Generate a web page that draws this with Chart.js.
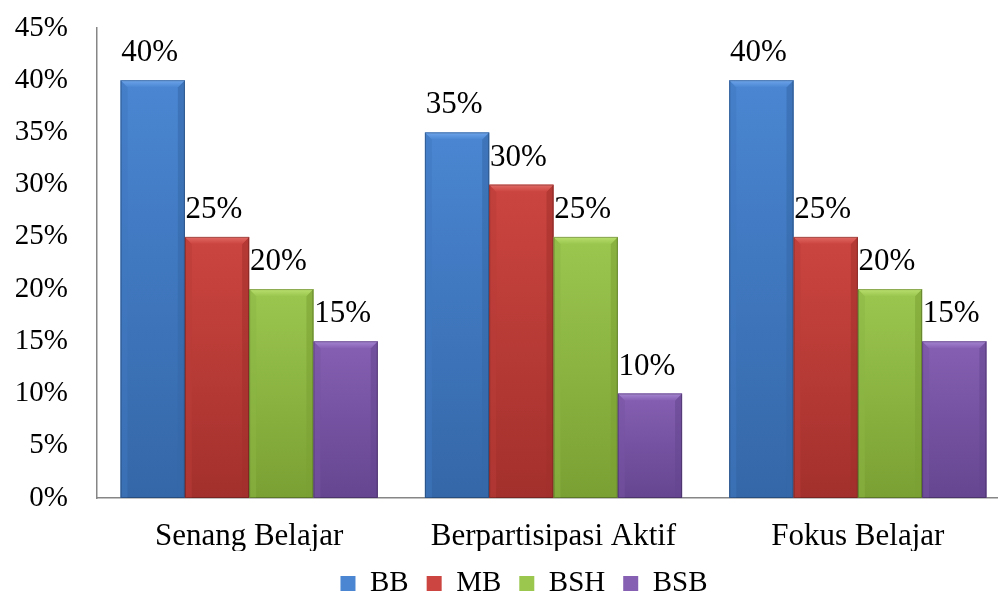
<!DOCTYPE html>
<html>
<head>
<meta charset="utf-8">
<script src="https://cdn.jsdelivr.net/npm/chart.js@4.4.1/dist/chart.umd.min.js"></script>
<style>
html,body{margin:0;padding:0;background:#fff;overflow:hidden;}
#wrap{width:1010px;height:608px;position:relative;}
</style>
</head>
<body>
<div id="wrap"><canvas id="c"></canvas></div>
<script>
const categories = ["Senang Belajar", "Berpartisipasi Aktif", "Fokus Belajar"];
const seriesNames = ["BB", "MB", "BSH", "BSB"];
const BB  = [40, 35, 40];
const MB  = [25, 30, 25];
const BSH = [20, 25, 20];
const BSB = [15, 10, 15];
const yTicks = [0, 5, 10, 15, 20, 25, 30, 35, 40, 45];

const palette = [
  {base:'#4A86D2', light:'#6FA6EC', dark:'#3467A8', side:'#3F78C0'},
  {base:'#CC4540', light:'#E26A66', dark:'#A3302C', side:'#B93B37'},
  {base:'#9BC74F', light:'#B9E06E', dark:'#7AA033', side:'#8BB544'},
  {base:'#8660B3', light:'#A585D2', dark:'#654590', side:'#7853A4'}
];

const FONT = "'Liberation Serif', 'Times New Roman', serif";
const FS = 31;
const FSY = 29;
const FSL = 29;

const bevelPlugin = {
  id: 'bevel',
  afterDatasetsDraw(chart) {
    const ctx = chart.ctx;
    chart.data.datasets.forEach((ds, di) => {
      const meta = chart.getDatasetMeta(di);
      const p = palette[di];
      meta.data.forEach((bar, i) => {
        const w = bar.width;
        const l = bar.x - w / 2, r = bar.x + w / 2, t = bar.y, b = bar.base;
        const d = 7;
        ctx.save();
        const g = ctx.createLinearGradient(0, t, 0, b);
        g.addColorStop(0, p.base);
        g.addColorStop(1, p.dark);
        ctx.fillStyle = g;
        ctx.fillRect(l, t, w, b - t);
        ctx.fillStyle = p.side;
        ctx.beginPath();
        ctx.moveTo(l, t); ctx.lineTo(l + d, t + d); ctx.lineTo(l + d, b); ctx.lineTo(l, b); ctx.closePath();
        ctx.globalAlpha = 0.5; ctx.fill();
        ctx.fillStyle = p.dark;
        ctx.beginPath();
        ctx.moveTo(r, t); ctx.lineTo(r - d, t + d); ctx.lineTo(r - d, b); ctx.lineTo(r, b); ctx.closePath();
        ctx.globalAlpha = 0.55; ctx.fill();
        ctx.globalAlpha = 1;
        const tg = ctx.createLinearGradient(0, t, 0, t + d);
        tg.addColorStop(0, p.light);
        tg.addColorStop(1, p.base);
        ctx.fillStyle = tg;
        ctx.beginPath();
        ctx.moveTo(l, t); ctx.lineTo(r, t); ctx.lineTo(r - d, t + d); ctx.lineTo(l + d, t + d); ctx.closePath();
        ctx.fill();
        ctx.strokeStyle = 'rgba(0,0,0,0.25)';
        ctx.lineWidth = 1;
        ctx.strokeRect(l + 0.5, t + 0.5, w - 1, b - t - 1);
        ctx.restore();
        ctx.save();
        ctx.fillStyle = '#000';
        ctx.font = FS + "px " + FONT;
        ctx.textAlign = 'center';
        ctx.textBaseline = 'alphabetic';
        ctx.fillText(ds.data[i] + '%', bar.x - 3, t - 19);
        ctx.restore();
      });
    });
  }
};

const legendShift = {
  id: 'legendShift',
  afterLayout(chart) {
    chart.legend.left += 19;
    chart.legend.right += 19;
  }
};

const seriesData = [BB, MB, BSH, BSB];
new Chart(document.getElementById('c'), {
  type: 'bar',
  data: {
    labels: categories,
    datasets: seriesNames.map((n, i) => ({
      label: n,
      data: seriesData[i],
      backgroundColor: palette[i].base,
      borderColor: palette[i].dark,
      borderWidth: 0
    }))
  },
  options: {
    responsive: true,
    maintainAspectRatio: false,
    animation: false,
    layout: { padding: { top: 12, right: 0, left: 0, bottom: 0 } },
    datasets: { bar: { categoryPercentage: 0.845, barPercentage: 1.0 } },
    plugins: {
      tooltip: { enabled: false },
      legend: {
        position: 'bottom',
        labels: {
          font: { family: FONT, size: FSL },
          color: '#000',
          boxWidth: 15,
          boxHeight: 15,
          padding: 18
        }
      }
    },
    scales: {
      x: {
        grid: { display: false, drawTicks: false },
        border: { display: true, color: '#868686', width: 1.5 },
        afterFit(scale) { scale.height = 53; },
        ticks: { font: { family: FONT, size: FS }, color: '#000', padding: 20 }
      },
      y: {
        min: 0, max: 45,
        afterBuildTicks(scale) { scale.ticks = yTicks.map(v => ({ value: v })); },
        afterFit(scale) { scale.width = 97; scale.paddingTop = 28; },
        grid: { display: false, drawTicks: false },
        border: { display: true, color: '#868686', width: 1.5 },
        ticks: {
          font: { family: FONT, size: FSY }, color: '#000', padding: 29,
          callback: v => v + '%'
        }
      }
    }
  },
  plugins: [bevelPlugin, legendShift]
});
</script>
</body>
</html>
